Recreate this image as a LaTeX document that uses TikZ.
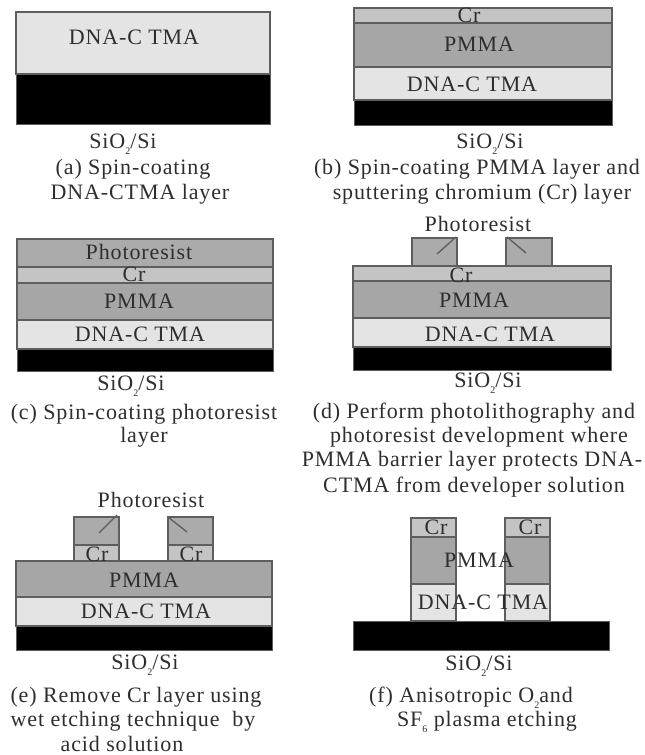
\documentclass[tikz,border=0pt]{standalone}
\usepackage{fontspec}
\setmainfont[LetterSpace=4]{Liberation Serif}
\tikzset{x=0.75pt,y=-0.75pt,
  layer/.style={draw=edgegray,line width=1.1pt},
  dnalayer/.style={layer,fill=dnagray},
  pmmalayer/.style={layer,fill=pmmagray},
  crlayer/.style={layer,fill=crgray},
  resist/.style={layer,fill=resistgray},
  subst/.style={draw=edgegray,line width=0.6pt,fill=black},
  leader/.style={draw=edgegray,line width=1pt},
  lab/.style={inner sep=0pt,text=textgray,text height=1em,text depth=0.0em,
    font=\fontsize{16.5pt}{18pt}\selectfont}}
\definecolor{edgegray}{HTML}{5E5E5E}
\definecolor{dnagray}{HTML}{E4E4E4}
\definecolor{pmmagray}{HTML}{A6A6A6}
\definecolor{crgray}{HTML}{C4C4C4}
\definecolor{resistgray}{HTML}{ABABAB}
\definecolor{textgray}{HTML}{2E2E2E}
\newcommand{\subs}[1]{\raisebox{-0.28em}{\fontsize{7.5pt}{8pt}\selectfont #1}}
\newcommand{\sio}{SiO\subs{2}/Si}
\begin{document}
\begin{tikzpicture}
\useasboundingbox[fill=white] (0,0) rectangle (644,755);
% (a)
\draw[dnalayer] (16,12) rectangle (270,74);
\draw[subst] (16,74) rectangle (270,124);
\node[lab] (a1) at (134,38) {DNA-C TMA};
\node[lab] (a2) at (123,142) {\sio};
\node[lab] (a3) at (133,168) {(a) Spin-coating};
\node[lab] (a4) at (140,193) {DNA-CTMA layer};
% (b)
\draw[crlayer] (354,8) rectangle (612,23);
\draw[pmmalayer] (354,23) rectangle (612,67);
\draw[dnalayer] (354,67) rectangle (612,100);
\draw[subst] (354,100) rectangle (612,125);
\node[lab] (b0) at (469,16) {Cr};
\node[lab] (b1) at (479,45) {PMMA};
\node[lab] (b2) at (472,85) {DNA-C TMA};
\node[lab] (b3) at (490,142) {\sio};
\node[lab] (b4) at (477,168) {(b) Spin-coating PMMA layer and};
\node[lab] (b5) at (482,193) {sputtering chromium (Cr) layer};
% (c)
\draw[resist] (17,239) rectangle (273,267);
\draw[crlayer] (17,267) rectangle (273,283);
\draw[pmmalayer] (17,283) rectangle (273,320);
\draw[dnalayer] (17,320) rectangle (273,349);
\draw[subst] (17,349) rectangle (273,371);
\node[lab] (c0) at (139,253) {Photoresist};
\node[lab] (c1) at (134,275) {Cr};
\node[lab] (c2) at (139,302) {PMMA};
\node[lab] (c3) at (140,335) {DNA-C TMA};
\node[lab] (c4) at (131,384) {\sio};
\node[lab] (c5) at (144,413) {(c) Spin-coating photoresist};
\node[lab] (c6) at (144,436) {layer};
% (d)
\draw[resist] (412,238) rectangle (457,266);
\draw[resist] (506,238) rectangle (552,266);
\draw[leader] (456,237) -- (437,254);
\draw[leader] (507,237) -- (526,253);
\draw[crlayer] (353,266) rectangle (611,281);
\draw[pmmalayer] (353,281) rectangle (611,318);
\draw[dnalayer] (353,318) rectangle (611,347);
\draw[subst] (353,347) rectangle (611,370);
\node[lab] (d0) at (478,225) {Photoresist};
\node[lab] (d1) at (461,276) {Cr};
\node[lab] (d2) at (474,301) {PMMA};
\node[lab] (d3) at (490,335) {DNA-C TMA};
\node[lab] (d4) at (488,381) {\sio};
\node[lab] (d5) at (474,412) {(d) Perform photolithography and};
\node[lab] (d6) at (479,436) {photoresist development where};
\node[lab] (d7) at (472,460) {PMMA barrier layer protects DNA-};
\node[lab] (d8) at (474,486) {CTMA from developer solution};
% (e)
\draw[resist] (74,517) rectangle (119,545);
\draw[resist] (168,517) rectangle (213,545);
\draw[crlayer] (74,545) rectangle (119,561);
\draw[crlayer] (168,545) rectangle (213,561);
\draw[leader] (117,515) -- (99,533);
\draw[leader] (168,517) -- (187,532);
\draw[pmmalayer] (16,561) rectangle (272,597);
\draw[dnalayer] (16,597) rectangle (272,626);
\draw[subst] (16,626) rectangle (272,650);
\node[lab] (e0) at (151,501) {Photoresist};
\node[lab] (e1) at (97,555) {Cr};
\node[lab] (e2) at (191,555) {Cr};
\node[lab] (e3) at (144,581) {PMMA};
\node[lab] (e4) at (146,612) {DNA-C TMA};
\node[lab] (e5) at (145,663) {\sio};
\node[lab] (e6) at (136,696) {(e) Remove Cr layer using};
\node[lab] (e7) at (133,720) {wet etching technique\ \ by};
\node[lab] (e8) at (122,745) {acid solution};
% (f)
\draw[subst] (353,621) rectangle (609,650);
\draw[crlayer] (411,518) rectangle (456,537);
\draw[pmmalayer] (411,537) rectangle (456,584);
\draw[dnalayer] (411,584) rectangle (456,621);
\draw[crlayer] (505,518) rectangle (550,537);
\draw[pmmalayer] (505,537) rectangle (550,584);
\draw[dnalayer] (505,584) rectangle (550,621);
\node[lab] (f0) at (436,528) {Cr};
\node[lab] (f1) at (530,528) {Cr};
\node[lab] (f2) at (479,561) {PMMA};
\node[lab] (f3) at (483,603) {DNA-C TMA};
\node[lab] (f4) at (479,664) {\sio};
\node[lab] (f5) at (471,696) {(f) Anisotropic O\subs{2}and};
\node[lab] (f6) at (487,720) {SF\subs{6} plasma etching};
\end{tikzpicture}
\end{document}
